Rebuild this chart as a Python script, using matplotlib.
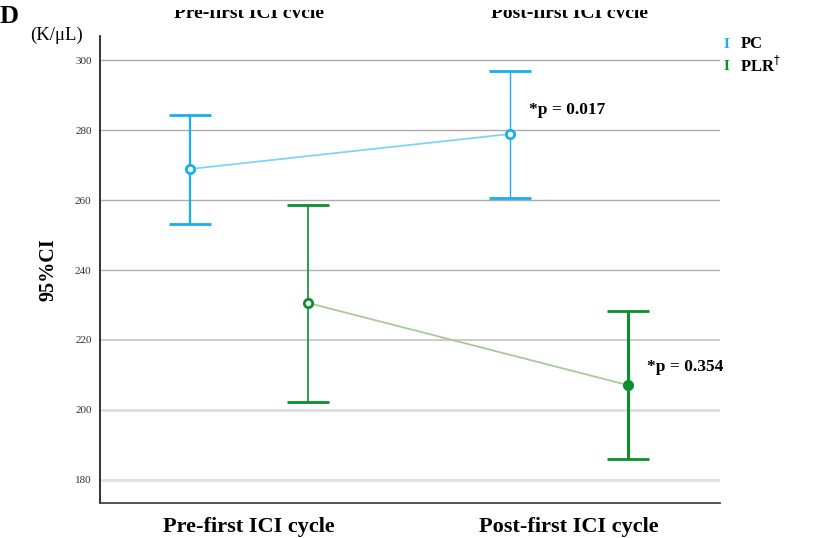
import matplotlib
matplotlib.use("Agg")
import matplotlib.pyplot as plt
from matplotlib.transforms import Bbox

plt.rcParams['font.family'] = ['Liberation Serif', 'DejaVu Serif']

# Group means and 95% CI bounds (K/uL) before / after first ICI cycle
periods = ["Pre-first ICI cycle", "Post-first ICI cycle"]
pc_mean = [268.9, 278.9]
pc_low = [253.1, 260.6]
pc_high = [284.3, 296.9]
plr_mean = [230.6, 207.1]
plr_low = [202.4, 185.9]
plr_high = [258.5, 228.3]
p_labels = ["*p = 0.017", "*p = 0.354"]
yticks = [180, 200, 220, 240, 260, 280, 300]

pc_color = "#18aef0"
plr_color = "#0b8f2c"

W, H = 832, 538
fig = plt.figure(figsize=(W / 100, H / 100), dpi=100)
ax = fig.add_axes([0.1202, 0.0651, 0.7452, 0.8679])

offset = 0.184
xs = [0, 1]
pc_x = [x - offset for x in xs]
plr_x = [x + offset for x in xs]

# horizontal reference lines, lighter toward the bottom
grid_style = {300: ("#a9a9a9", 1.0), 280: ("#acacac", 1.0), 260: ("#acacac", 1.0),
              240: ("#b4b4b4", 1.0), 220: ("#c4c4c4", 1.2), 200: ("#dedede", 2.0),
              180: ("#e2e2e2", 2.2)}
for t in yticks:
    c, lw = grid_style[t]
    ax.axhline(t, color=c, lw=lw, zorder=0)

ax.plot(pc_x, pc_mean, color="#7fd4f5", lw=1.3, zorder=2)
ax.plot(plr_x, plr_mean, color="#a9c99a", lw=1.3, zorder=2)

for i in range(2):
    ax.errorbar(pc_x[i], pc_mean[i],
                yerr=[[pc_mean[i] - pc_low[i]], [pc_high[i] - pc_mean[i]]],
                fmt="o", color=pc_color, ecolor=pc_color, elinewidth=1.6 if i == 0 else 1.0,
                capsize=15, capthick=1.6, ms=6, mfc="white", mec=pc_color, mew=2, zorder=3)
    ax.errorbar(plr_x[i], plr_mean[i],
                yerr=[[plr_mean[i] - plr_low[i]], [plr_high[i] - plr_mean[i]]],
                fmt="o", color=plr_color, ecolor=plr_color, elinewidth=1.2 if i == 0 else 2.2,
                capsize=15, capthick=1.5, ms=6, mfc="white" if i == 0 else plr_color,
                mec=plr_color, mew=2, zorder=3)

ax.text(pc_x[1] + 0.06, 285.7, p_labels[0], fontsize=12.5, fontweight="bold",
        va="center", ha="left")
ax.text(plr_x[1] + 0.06, 212.3, p_labels[1], fontsize=12.5, fontweight="bold",
        va="center", ha="left")

ax.set_xlim(-0.466, 1.472)
ax.set_ylim(173.4, 306.9)
ax.set_yticks(yticks)
ax.set_yticklabels([str(t) for t in yticks], fontsize=8, color="#333333")
ax.tick_params(axis="y", length=0, pad=6)
ax.set_xticks(xs)
ax.set_xticklabels(periods, fontsize=16, fontweight="bold")
ax.tick_params(axis="x", length=0, pad=10)

for s in ["top", "right"]:
    ax.spines[s].set_visible(False)
ax.spines["left"].set_color("#222222")
ax.spines["left"].set_linewidth(1.3)
ax.spines["bottom"].set_color("#444444")
ax.spines["bottom"].set_linewidth(1.3)

ax.set_ylabel("95%CI", fontsize=14.5, fontweight="bold", labelpad=12)

fig.text(0.0, 1 - 5 / H, "D", fontsize=19, fontweight="bold", va="top", ha="left")
fig.text(0.036, 1 - 35 / H, "(K/\u03bcL)", fontsize=13.5, va="center", ha="left")

# column headers along the top edge, only a thin strip of them shows
strip = Bbox([[0, H - 17.5], [W, H - 10]])
for x, lab in zip(xs, periods):
    xf = 0.1202 + (x + 0.466) / 1.938 * 0.7452
    t = fig.text(xf, 1 - 17.5 / H, lab, fontsize=14, fontweight="bold",
                 ha="center", va="baseline")
    t.set_clip_on(True)
    t.set_clip_box(strip)

# legend entries
fig.text(0.870, 1 - 44 / H, "I", color=pc_color, fontsize=11, fontweight="bold",
         va="center", ha="left")
fig.text(0.890, 1 - 44 / H, "PC", fontsize=12, fontweight="bold", va="center", ha="left")
fig.text(0.870, 1 - 66 / H, "I", color=plr_color, fontsize=11, fontweight="bold",
         va="center", ha="left")
fig.text(0.890, 1 - 66 / H, "PLR$^{\\dagger}$", fontsize=12, fontweight="bold",
         va="center", ha="left")

fig.savefig("out.png", dpi=100)
